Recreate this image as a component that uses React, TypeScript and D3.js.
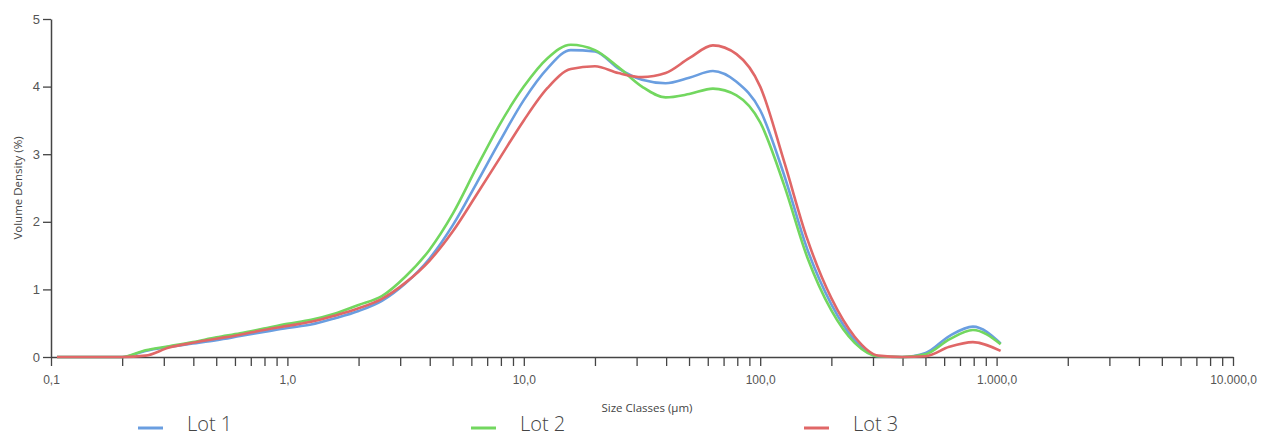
import * as d3 from "d3";
import React, { useEffect, useRef } from "react";

// size classes (µm)
const sizes = [
  0.106, 0.126, 0.158, 0.2, 0.251, 0.316, 0.398, 0.501, 0.631, 0.794, 1.0,
  1.26, 1.58, 2.0, 2.51, 3.16, 3.98, 5.01, 6.31, 7.94, 10.0, 12.6, 15.8, 20.0,
  25.1, 31.6, 39.8, 50.1, 63.1, 79.4, 100, 126, 158, 200, 251, 316, 398, 501,
  631, 794, 1040,
];

const lot1 = [
  0, 0, 0, 0, 0.09, 0.15, 0.2, 0.25, 0.31, 0.37, 0.43, 0.48, 0.57, 0.68, 0.83,
  1.09, 1.45, 1.95, 2.57, 3.2, 3.8, 4.27, 4.54, 4.52, 4.27, 4.1, 4.05, 4.13,
  4.23, 4.07, 3.65, 2.7, 1.6, 0.78, 0.25, 0.01, 0, 0.06, 0.31, 0.45, 0.2,
];

const lot2 = [
  0, 0, 0, 0, 0.1, 0.16, 0.22, 0.29, 0.35, 0.42, 0.49, 0.55, 0.64, 0.77, 0.9,
  1.19, 1.58, 2.12, 2.8, 3.45, 4.0, 4.42, 4.62, 4.54, 4.29, 4.0, 3.84, 3.89,
  3.97, 3.87, 3.47, 2.55, 1.48, 0.69, 0.21, 0.01, 0, 0.04, 0.26, 0.4, 0.19,
];

const lot3 = [
  0, 0, 0, 0, 0.02, 0.14, 0.21, 0.27, 0.33, 0.4, 0.46, 0.52, 0.61, 0.72, 0.86,
  1.1, 1.42, 1.86, 2.4, 2.95, 3.5, 3.98, 4.26, 4.3, 4.2, 4.14, 4.2, 4.42,
  4.61, 4.48, 4.0, 2.9, 1.75, 0.87, 0.3, 0.02, 0, 0.01, 0.15, 0.22, 0.09,
];

const seriesNames = ["Lot 1", "Lot 2", "Lot 3"];
const seriesColors = ["#6a9ee0", "#72d75f", "#e06767"];
const yTicks = [0, 1, 2, 3, 4, 5];

const App = () => {
  const svgRef = useRef<SVGSVGElement>(null);

  useEffect(() => {
    const width = 1272,
      height = 437;
    const margin = { top: 19, right: 39, bottom: 80, left: 51 };

    const svg = d3
      .select(svgRef.current)
      .html("")
      .attr("width", width)
      .attr("height", height)
      .style("font-family", "'Open Sans', sans-serif");

    const x = d3
      .scaleLog()
      .domain([0.1, 10000])
      .range([margin.left, width - margin.right]);
    const y = d3
      .scaleLinear()
      .domain([0, 5])
      .range([height - margin.bottom, margin.top]);

    const locale = d3.formatLocale({
      decimal: ",",
      thousands: ".",
      grouping: [3],
      currency: ["", "€"],
    });
    const fmt = locale.format(",.1f");

    // x axis, labels only on decades
    const xAxis = d3
      .axisBottom(x)
      .tickValues(x.ticks())
      .tickSize(9)
      .tickSizeOuter(0)
      .tickFormat((d: any) => {
        const l = Math.log10(d);
        return Math.abs(l - Math.round(l)) < 1e-6 ? fmt(d) : "";
      });

    const gx = svg
      .append("g")
      .attr("transform", `translate(0,${y(0)})`)
      .call(xAxis);
    gx.select(".domain").attr("stroke", "#444").attr("stroke-width", 1.5);
    gx.selectAll(".tick line").attr("stroke", "#444").attr("stroke-width", 1.3);
    gx.selectAll(".tick text")
      .attr("fill", "#555")
      .attr("dy", "1.25em")
      .style("font-size", "12px");

    // y axis
    const yAxis = d3
      .axisLeft(y)
      .tickValues(yTicks)
      .tickSize(8)
      .tickSizeOuter(0)
      .tickFormat(d3.format("d"));
    const gy = svg
      .append("g")
      .attr("transform", `translate(${margin.left},0)`)
      .call(yAxis);
    gy.select(".domain").attr("stroke", "#444").attr("stroke-width", 1.5);
    gy.selectAll(".tick line").attr("stroke", "#444").attr("stroke-width", 1.3);
    gy.selectAll(".tick text")
      .attr("fill", "#555")
      .attr("x", -11)
      .style("font-size", "13px");

    // axis titles
    svg
      .append("text")
      .attr("x", (margin.left + width - margin.right) / 2 + 5)
      .attr("y", 412)
      .attr("text-anchor", "middle")
      .attr("fill", "#444")
      .style("font-size", "11.5px")
      .text("Size Classes (µm)");

    svg
      .append("text")
      .attr("transform", `translate(22,${(y(0) + y(5)) / 2}) rotate(-90)`)
      .attr("text-anchor", "middle")
      .attr("fill", "#444")
      .style("font-size", "11.5px")
      .text("Volume Density (%)");

    // curves
    const allSeries = [lot1, lot2, lot3];
    const line = d3
      .line<number>()
      .x((d, i) => x(sizes[i]))
      .y((d) => y(d))
      .curve(d3.curveMonotoneX);

    allSeries.forEach((vals, i) => {
      svg
        .append("path")
        .datum(vals)
        .attr("fill", "none")
        .attr("stroke", seriesColors[i])
        .attr("stroke-width", 2.6)
        .attr("stroke-linejoin", "round")
        .attr("d", line);
    });

    // legend
    const legendX = [138, 471, 804];
    const legend = svg
      .selectAll(".legend")
      .data(seriesNames)
      .enter()
      .append("g")
      .attr("class", "legend")
      .attr("transform", (d, i) => `translate(${legendX[i]},428)`);

    legend
      .append("line")
      .attr("x1", 0)
      .attr("x2", 25)
      .attr("stroke", (d, i) => seriesColors[i])
      .attr("stroke-width", 3);

    legend
      .append("text")
      .attr("x", 49)
      .attr("y", 3)
      .attr("fill", "#444")
      .style("font-size", "20px")
      .style("font-weight", 300)
      .text((d) => d);
  }, []);

  return (
    <svg
      ref={svgRef}
      style={{ position: "absolute", left: 0, top: 0 }}
    ></svg>
  );
};

export default App;
